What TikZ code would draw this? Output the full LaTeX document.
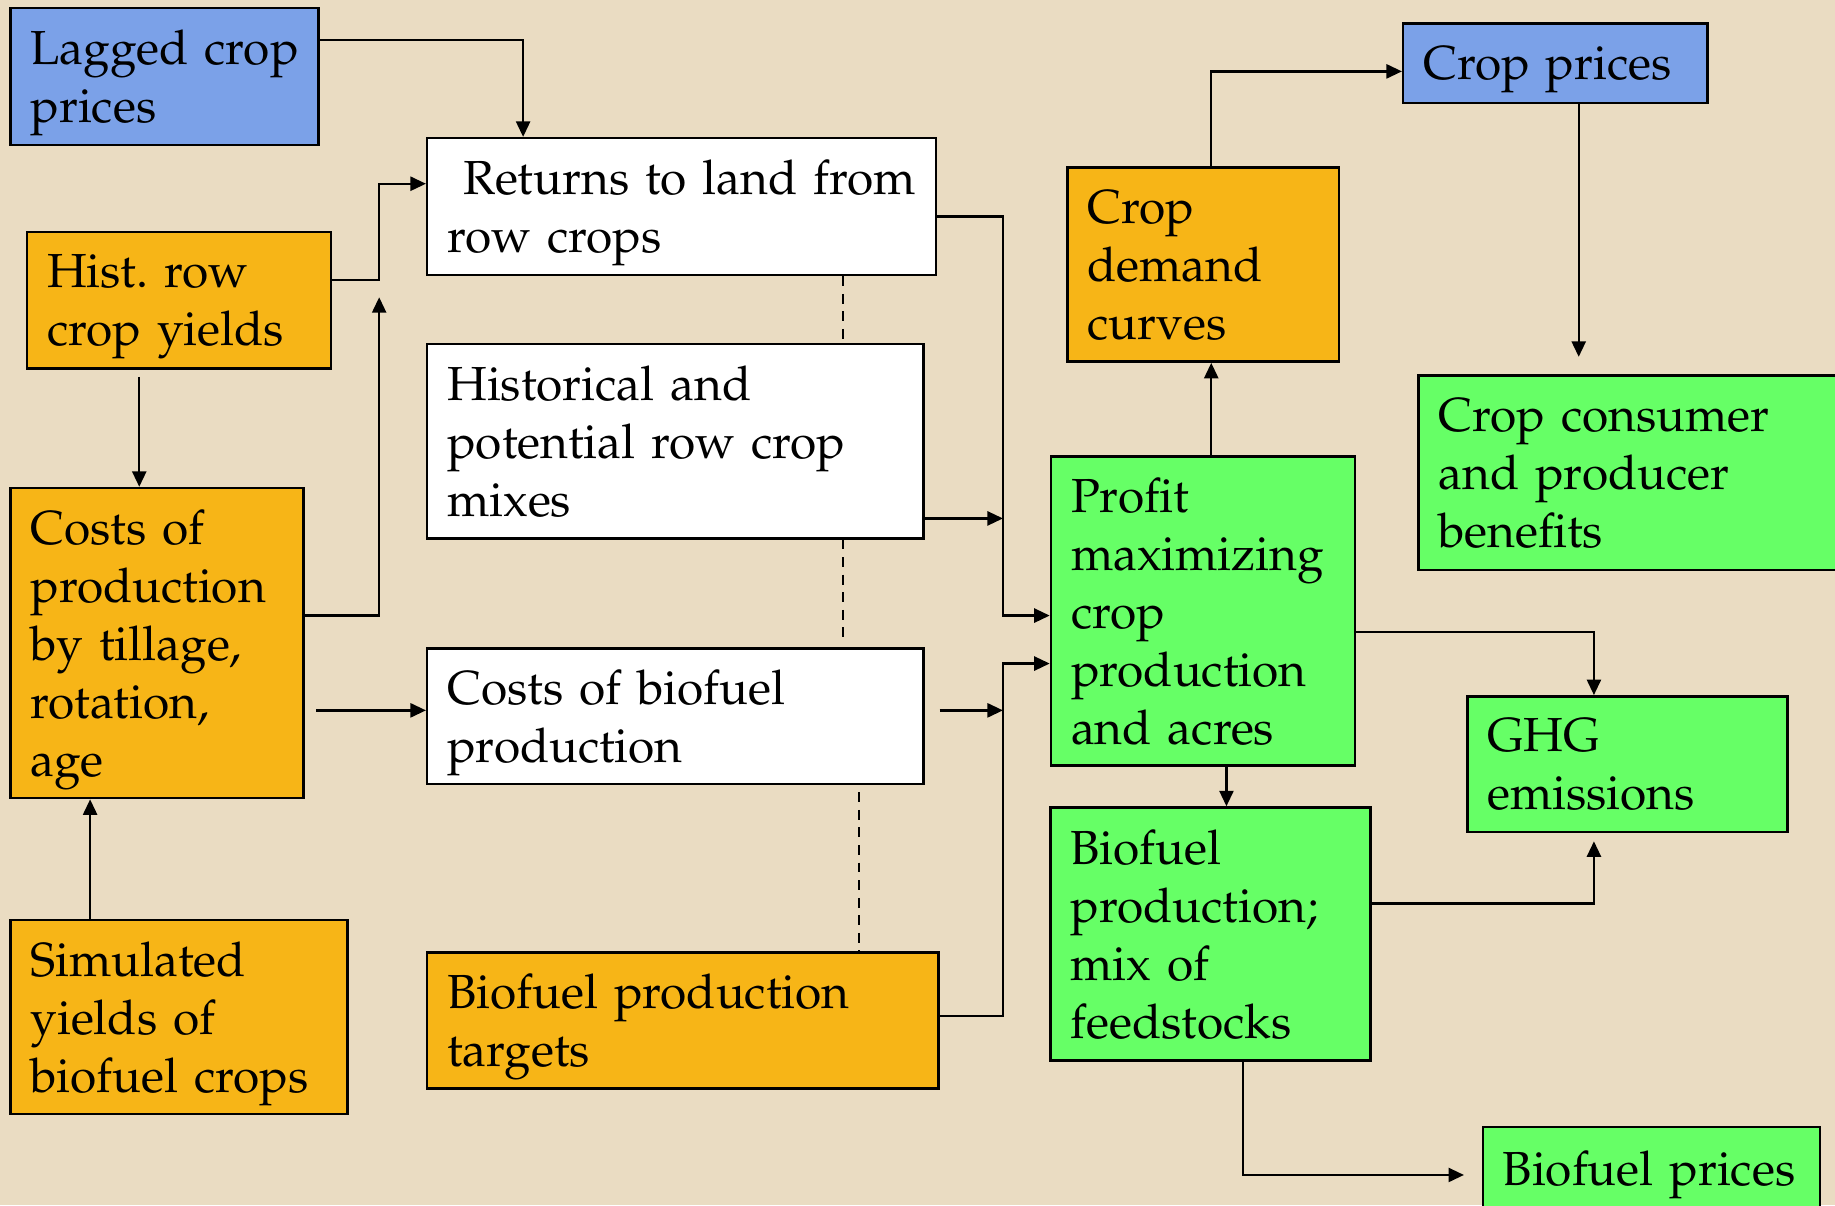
\documentclass[tikz,border=0pt]{standalone}
\usepackage[T1]{fontenc}
\usepackage{mathpazo}
\usetikzlibrary{arrows.meta}

\definecolor{bgcol}{RGB}{234,220,194}
\definecolor{bluebox}{RGB}{123,161,232}
\definecolor{orangebox}{RGB}{247,181,23}
\definecolor{greenbox}{RGB}{102,255,102}

\frenchspacing
\newcommand\boxfont{\fontsize{13.6}{16.5}\selectfont\spaceskip=2.8pt plus 1pt minus 0.5pt\relax}
\tikzset{
    bx/.style={draw=black,line width=0.7pt,inner xsep=0.2cm,inner ysep=0,
        align=left,font=\boxfont,
        execute at end node={\par\kern-\prevdepth}},
    blu/.style={bx,fill=bluebox},
    org/.style={bx,fill=orangebox},
    grn/.style={bx,fill=greenbox},
    wht/.style={bx,fill=white},
    arr/.style={-{Triangle[length=4.4pt,width=4pt]},line width=0.65pt},
    dsh/.style={dash pattern=on 2.8pt off 2.2pt,line width=0.55pt}
}

\begin{document}
\begin{tikzpicture}[x=0.011703cm,y=-0.011703cm]
    \useasboundingbox (0,0) rectangle (1568,1030);
    \fill[bgcol] (0,0) rectangle (1568,1030);

    % inputs
    \node[blu,minimum width=3.078cm,minimum height=1.369cm,text width=2.68cm] (lagged) at (140.5,65.5) {Lagged~crop\\prices};
    \node[org,minimum width=3.043cm,minimum height=1.369cm,text width=2.64cm] (hist) at (153,256.5) {Hist. row\\crop yields};
    \node[org,minimum width=2.926cm,minimum height=3.101cm,text width=2.53cm] (costs) at (134,549.5) {Costs of\\production\\by tillage,\\rotation,\\age};
    \node[org,minimum width=3.370cm,minimum height=1.943cm,text width=2.97cm] (simul) at (153,869) {Simulated\\yields of\\biofuel crops};

    % middle column
    \node[wht,minimum width=5.091cm,minimum height=1.369cm,text width=4.69cm] (returns) at (582.5,176.5) {\ Returns to land~from\\row crops};
    \node[wht,minimum width=4.962cm,minimum height=1.943cm,text width=4.56cm] (mixes) at (577,377) {Historical and\\potential row crop\\mixes};
    \node[wht,minimum width=4.962cm,minimum height=1.358cm,text width=4.56cm] (biocost) at (577,612) {Costs of biofuel\\production};
    \node[org,minimum width=5.114cm,minimum height=1.358cm,text width=4.71cm] (targets) at (583.5,872) {Biofuel production\\targets};

    % outputs
    \node[blu,minimum width=3.043cm,minimum height=0.796cm,text width=2.64cm] (cprices) at (1329,54) {Crop prices};
    \node[org,minimum width=2.715cm,minimum height=1.943cm,text width=2.31cm] (demand) at (1028,226) {Crop\\demand\\curves};
    \node[grn,minimum width=4.190cm,minimum height=1.943cm,text width=3.79cm] (benefits) at (1391,404) {Crop consumer\\and producer\\benefits};
    \node[grn,minimum width=3.043cm,minimum height=3.090cm,text width=2.64cm] (profit) at (1028,522) {Profit\\maximizing\\crop\\production\\and acres};
    \node[grn,minimum width=3.195cm,minimum height=1.358cm,text width=2.80cm] (ghg) at (1390.5,653) {GHG\\emissions};
    \node[grn,minimum width=3.195cm,minimum height=2.528cm,text width=2.80cm] (biofuel) at (1034.5,798) {Biofuel\\production;\\mix of\\feedstocks};
    \node[grn,minimum width=3.370cm,minimum height=0.819cm,text width=2.97cm] (bprices) at (1411,998) {Biofuel prices};

    \coordinate (busx) at (857,0);
    \coordinate (upx) at (324,254);

    % left side
    \draw[arr] (lagged.east |- 0,34) -| (447,0 |- returns.north);
    \draw[arr] (hist.east |- 0,239) -- (324,239) |- (returns.west |- 0,157);
    \draw[arr] (costs.east |- 0,526) -| (upx);
    \draw[arr,shorten <=0.07cm] (hist.south -| 119,0) -- (costs.north -| 119,0);
    \draw[arr,shorten <=0.117cm] (costs.east |- 0,607) -- (biocost.west |- 0,607);
    \draw[arr] (simul.north -| 77,0) -- (costs.south -| 77,0);

    % into the model
    \draw[arr] (returns.east |- 0,185) -- (busx |- 0,185) |- (profit.west |- 0,526);
    \draw[arr] (mixes.east |- 0,443) -- (busx |- 0,443);
    \draw[arr,shorten <=0.15cm] (biocost.east |- 0,607) -- (busx |- 0,607);
    \draw[arr] (targets.east |- 0,868) -- (busx |- 0,868) |- (profit.west |- 0,567);
    \draw[dsh] (returns.south -| 720,0) -- (mixes.north -| 720,0);
    \draw[dsh,shorten >=0.07cm] (mixes.south -| 720,0) -- (biocost.north -| 720,0);
    \draw[dsh,shorten <=0.07cm] (biocost.south -| 734,0) -- (targets.north -| 734,0);

    % right side
    \draw[arr] (profit.north -| 1035,0) -- (demand.south -| 1035,0);
    \draw[arr] (demand.north -| 1035,0) |- (cprices.west |- 0,61);
    \draw[arr,shorten >=0.176cm] (cprices.south -| 1349,0) -- (benefits.north -| 1349,0);
    \draw[arr] (profit.east |- 0,540) -| (ghg.north -| 1362,0);
    \draw[arr] (profit.south -| 1048,0) -- (biofuel.north -| 1048,0);
    \draw[arr,shorten >=0.08cm] (biofuel.east |- 0,772) -| (ghg.south -| 1362,0);
    \draw[arr,shorten >=0.176cm] (biofuel.south -| 1062,0) |- (bprices.west |- 0,1004);
\end{tikzpicture}
\end{document}
